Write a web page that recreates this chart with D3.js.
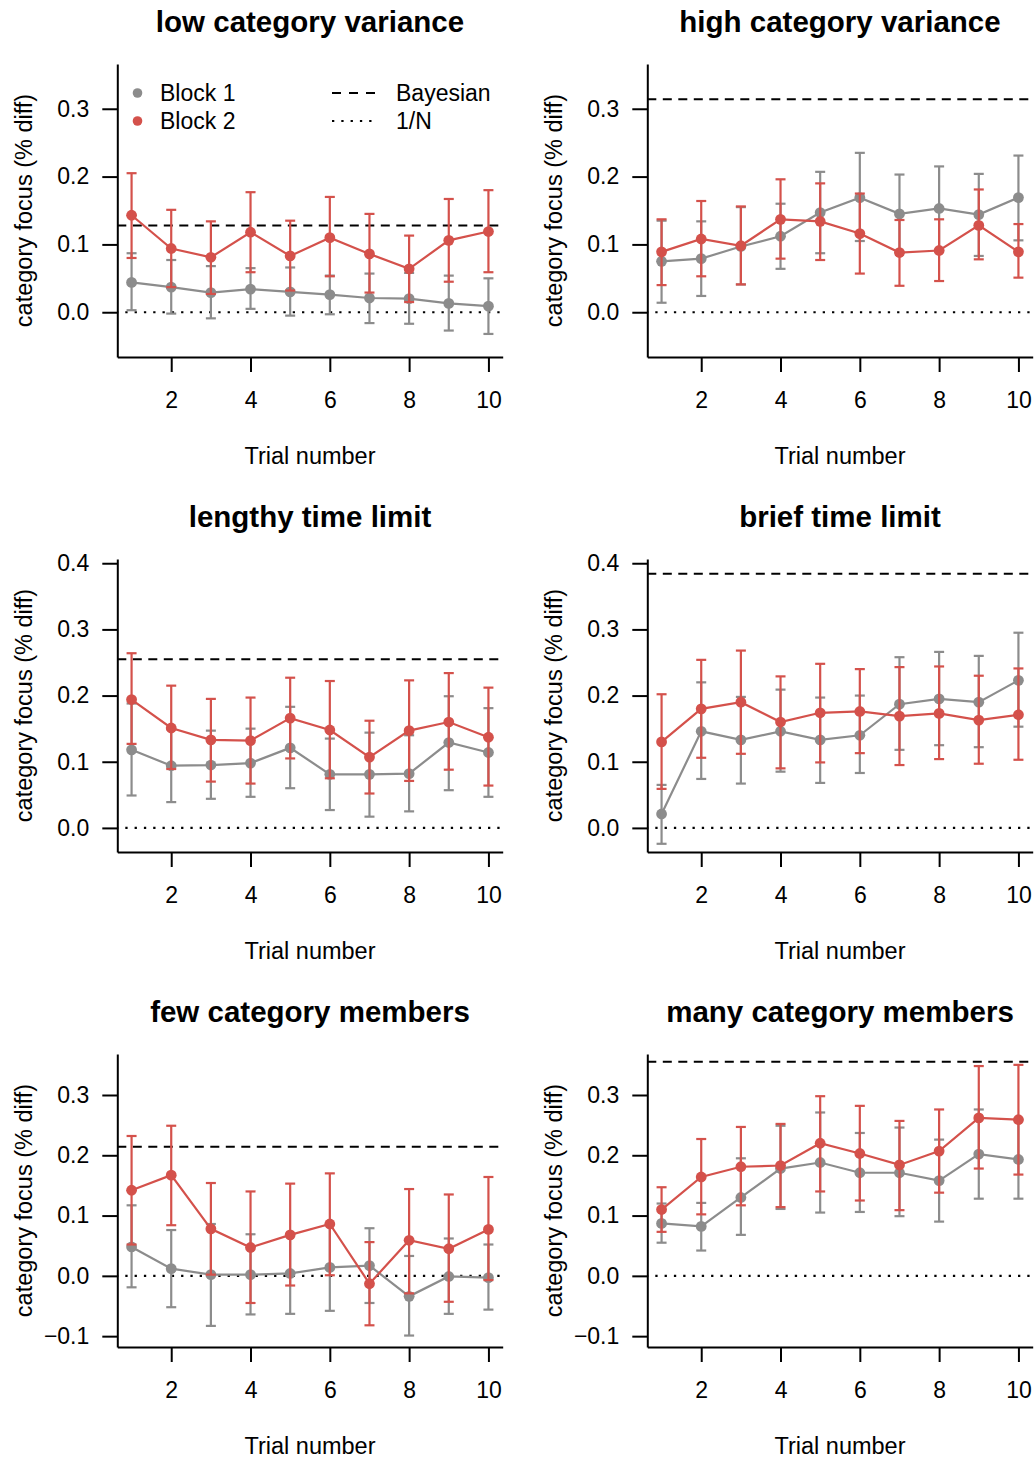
<!DOCTYPE html>
<html>
<head>
<meta charset="utf-8">
<script src="https://cdn.jsdelivr.net/npm/d3@7"></script>
<style>
  body { margin: 0; background: #fff; }
  svg { display: block; font-family: "Liberation Sans", Arial, Helvetica, sans-serif; }
  .axis path, .axis line { stroke: #000; stroke-width: 2; }
  .axis text { font-size: 23px; fill: #000; }
</style>
</head>
<body>
<div id="chart"></div>
<script>
// panel titles, one per condition
let titles = ["low category variance", "high category variance",
  "lengthy time limit", "brief time limit",
  "few category members", "many category members"];

let trials = [1, 2, 3, 4, 5, 6, 7, 8, 9, 10];
let xTicks = [2, 4, 6, 8, 10];

// Bayesian reference value per panel (1/N is always 0)
let bayesian = [0.128, 0.314, 0.255, 0.384, 0.214, 0.355];

// y limits and ticks per panel
let yLimits = [[-0.05, 0.35], [-0.05, 0.35], [-0.02, 0.39], [-0.02, 0.39], [-0.1, 0.35], [-0.1, 0.35]];
let yTicks = [[0, 0.1, 0.2, 0.3], [0, 0.1, 0.2, 0.3], [0, 0.1, 0.2, 0.3, 0.4], [0, 0.1, 0.2, 0.3, 0.4],
  [-0.1, 0, 0.1, 0.2, 0.3], [-0.1, 0, 0.1, 0.2, 0.3]];

// Block 1 means and interval bounds
let block1Mean = [
  [0.044, 0.037, 0.029, 0.034, 0.030, 0.026, 0.021, 0.020, 0.013, 0.009],
  [0.075, 0.079, 0.097, 0.112, 0.147, 0.169, 0.145, 0.153, 0.144, 0.169],
  [0.118, 0.094, 0.095, 0.098, 0.121, 0.081, 0.081, 0.082, 0.129, 0.114],
  [0.021, 0.146, 0.133, 0.146, 0.133, 0.140, 0.187, 0.195, 0.190, 0.223],
  [0.048, 0.012, 0.002, 0.002, 0.004, 0.014, 0.017, -0.034, -0.001, -0.003],
  [0.087, 0.082, 0.130, 0.178, 0.188, 0.171, 0.171, 0.158, 0.202, 0.193]
];
let block1Hi = [
  [0.087, 0.077, 0.068, 0.065, 0.066, 0.054, 0.057, 0.058, 0.054, 0.050],
  [0.135, 0.134, 0.155, 0.160, 0.207, 0.235, 0.203, 0.215, 0.204, 0.231],
  [0.188, 0.149, 0.147, 0.150, 0.183, 0.135, 0.144, 0.140, 0.199, 0.181],
  [0.065, 0.220, 0.198, 0.209, 0.197, 0.200, 0.258, 0.266, 0.260, 0.295],
  [0.117, 0.076, 0.086, 0.069, 0.069, 0.086, 0.079, 0.033, 0.062, 0.052],
  [0.120, 0.121, 0.195, 0.249, 0.271, 0.237, 0.246, 0.226, 0.276, 0.259]
];
let block1Lo = [
  [0.003, -0.002, -0.009, 0.005, -0.005, -0.003, -0.016, -0.017, -0.027, -0.032],
  [0.014, 0.024, 0.041, 0.064, 0.087, 0.105, 0.088, 0.091, 0.083, 0.106],
  [0.049, 0.039, 0.044, 0.047, 0.060, 0.027, 0.017, 0.025, 0.057, 0.047],
  [-0.024, 0.074, 0.067, 0.085, 0.068, 0.083, 0.118, 0.125, 0.122, 0.153],
  [-0.019, -0.052, -0.083, -0.064, -0.063, -0.058, -0.045, -0.099, -0.063, -0.056],
  [0.055, 0.042, 0.068, 0.111, 0.105, 0.106, 0.099, 0.090, 0.128, 0.128]
];

// Block 2 means and interval bounds
let block2Mean = [
  [0.143, 0.094, 0.081, 0.118, 0.083, 0.110, 0.086, 0.064, 0.106, 0.119],
  [0.089, 0.108, 0.098, 0.137, 0.134, 0.116, 0.088, 0.091, 0.128, 0.089],
  [0.194, 0.151, 0.133, 0.132, 0.166, 0.148, 0.107, 0.147, 0.160, 0.137],
  [0.130, 0.180, 0.190, 0.160, 0.174, 0.176, 0.169, 0.173, 0.163, 0.171],
  [0.142, 0.167, 0.078, 0.047, 0.068, 0.086, -0.013, 0.059, 0.045, 0.077],
  [0.110, 0.164, 0.181, 0.183, 0.220, 0.203, 0.184, 0.207, 0.262, 0.259]
];
let block2Hi = [
  [0.205, 0.151, 0.134, 0.177, 0.135, 0.170, 0.145, 0.113, 0.167, 0.180],
  [0.137, 0.164, 0.156, 0.196, 0.190, 0.175, 0.136, 0.137, 0.181, 0.130],
  [0.264, 0.215, 0.195, 0.197, 0.227, 0.222, 0.162, 0.223, 0.234, 0.212],
  [0.202, 0.254, 0.268, 0.229, 0.248, 0.240, 0.243, 0.244, 0.230, 0.241],
  [0.232, 0.249, 0.154, 0.140, 0.153, 0.170, 0.056, 0.144, 0.135, 0.164],
  [0.147, 0.227, 0.247, 0.252, 0.298, 0.282, 0.257, 0.276, 0.348, 0.350]
];
let block2Lo = [
  [0.080, 0.037, 0.027, 0.059, 0.032, 0.053, 0.029, 0.015, 0.045, 0.059],
  [0.040, 0.053, 0.041, 0.079, 0.077, 0.057, 0.039, 0.046, 0.078, 0.051],
  [0.127, 0.089, 0.070, 0.067, 0.105, 0.075, 0.052, 0.071, 0.088, 0.064],
  [0.059, 0.106, 0.112, 0.090, 0.099, 0.113, 0.095, 0.104, 0.097, 0.103],
  [0.052, 0.084, 0.002, -0.045, -0.016, 0.001, -0.082, -0.029, -0.043, -0.007],
  [0.073, 0.102, 0.117, 0.114, 0.140, 0.125, 0.109, 0.138, 0.178, 0.168]
];

let grey = "#8c8c8c";
let red = "#d4514b";

// layout
let width = 1036, height = 1460;
let plotW = 385.4, plotH = 293;
let left0 = 117.3, top0 = 64;
let colStep = 530, rowStep = 495;

let svg = d3.select("#chart").append("svg")
  .attr("width", width)
  .attr("height", height);

// R style 4% padding on the axis range
function pad(lim) {
  let d = (lim[1] - lim[0]) * 0.04;
  return [lim[0] - d, lim[1] + d];
}

titles.forEach(function(title, p) {
  let col = p % 2, row = Math.floor(p / 2);
  let g = svg.append("g")
    .attr("transform", "translate(" + (left0 + col * colStep) + "," + (top0 + row * rowStep) + ")");

  let x = d3.scaleLinear().domain(pad([1, 10])).range([0, plotW]);
  let y = d3.scaleLinear().domain(pad(yLimits[p])).range([plotH, 0]);

  // reference lines
  g.append("line")
    .attr("x1", 0).attr("x2", plotW)
    .attr("y1", y(bayesian[p])).attr("y2", y(bayesian[p]))
    .attr("stroke", "#000").attr("stroke-width", 2)
    .attr("stroke-dasharray", "9,6.5");
  g.append("line")
    .attr("x1", 0).attr("x2", plotW)
    .attr("y1", y(0)).attr("y2", y(0))
    .attr("stroke", "#000").attr("stroke-width", 2.2)
    .attr("stroke-dasharray", "2.3,7")
    .attr("stroke-dashoffset", -8);

  let blocks = [
    {mean: block1Mean[p], lo: block1Lo[p], hi: block1Hi[p], color: grey},
    {mean: block2Mean[p], lo: block2Lo[p], hi: block2Hi[p], color: red}
  ];

  blocks.forEach(function(b) {
    let pts = trials.map(function(t, i) { return {t: t, m: b.mean[i], lo: b.lo[i], hi: b.hi[i]}; });
    let bg = g.append("g");

    bg.append("path")
      .datum(pts)
      .attr("fill", "none")
      .attr("stroke", b.color)
      .attr("stroke-width", 2.2)
      .attr("d", d3.line().x(function(d) { return x(d.t); }).y(function(d) { return y(d.m); }));

    bg.selectAll("circle")
      .data(pts)
      .enter().append("circle")
      .attr("cx", function(d) { return x(d.t); })
      .attr("cy", function(d) { return y(d.m); })
      .attr("r", 5.4)
      .attr("fill", b.color);

    // error bars with caps
    let eb = bg.selectAll("g.eb")
      .data(pts)
      .enter().append("g")
      .attr("class", "eb")
      .attr("stroke", b.color)
      .attr("stroke-width", 2.2);
    eb.append("line")
      .attr("x1", function(d) { return x(d.t); })
      .attr("x2", function(d) { return x(d.t); })
      .attr("y1", function(d) { return y(d.lo); })
      .attr("y2", function(d) { return y(d.hi); });
    eb.append("line")
      .attr("x1", function(d) { return x(d.t) - 5; })
      .attr("x2", function(d) { return x(d.t) + 5; })
      .attr("y1", function(d) { return y(d.hi); })
      .attr("y2", function(d) { return y(d.hi); });
    eb.append("line")
      .attr("x1", function(d) { return x(d.t) - 5; })
      .attr("x2", function(d) { return x(d.t) + 5; })
      .attr("y1", function(d) { return y(d.lo); })
      .attr("y2", function(d) { return y(d.lo); });
  });

  // axes
  g.append("g")
    .attr("class", "axis")
    .attr("transform", "translate(0," + plotH + ")")
    .call(d3.axisBottom(x).tickValues(xTicks).tickSize(15).tickSizeOuter(0).tickPadding(20));
  g.append("g")
    .attr("class", "axis")
    .call(d3.axisLeft(y).tickValues(yTicks[p]).tickSize(15).tickSizeOuter(0).tickPadding(13)
      .tickFormat(function(v) { return d3.format(".1f")(v).replace("-", "\u2212"); }));

  // title and axis labels
  g.append("text")
    .attr("x", plotW / 2).attr("y", 32 - top0)
    .attr("text-anchor", "middle")
    .style("font-size", "29.5px").style("font-weight", "bold")
    .text(title);
  g.append("text")
    .attr("x", plotW / 2).attr("y", 464 - top0)
    .attr("text-anchor", "middle")
    .style("font-size", "23.5px")
    .text("Trial number");
  g.append("text")
    .attr("transform", "translate(" + (31.5 - left0) + "," + (plotH / 2) + ") rotate(-90)")
    .attr("text-anchor", "middle")
    .style("font-size", "23.5px")
    .text("category focus (% diff)");

  // legend in the first panel only
  if (p === 0) {
    let lg = svg.append("g").style("font-size", "23px");
    let blockLabels = ["Block 1", "Block 2"];
    let blockColors = [grey, red];
    blockLabels.forEach(function(lab, i) {
      lg.append("circle").attr("cx", 137.5).attr("cy", 93 + i * 28).attr("r", 4.8).attr("fill", blockColors[i]);
      lg.append("text").attr("x", 160).attr("y", 93 + i * 28).attr("dy", "0.35em").text(lab);
    });
    let refLabels = ["Bayesian", "1/N"];
    lg.append("line").attr("x1", 332).attr("x2", 376).attr("y1", 93).attr("y2", 93)
      .attr("stroke", "#000").attr("stroke-width", 2).attr("stroke-dasharray", "9,8");
    lg.append("line").attr("x1", 332).attr("x2", 374).attr("y1", 121).attr("y2", 121)
      .attr("stroke", "#000").attr("stroke-width", 2.2).attr("stroke-dasharray", "2.3,7");
    refLabels.forEach(function(lab, i) {
      lg.append("text").attr("x", 396).attr("y", 93 + i * 28).attr("dy", "0.35em").text(lab);
    });
  }
});
</script>
</body>
</html>
